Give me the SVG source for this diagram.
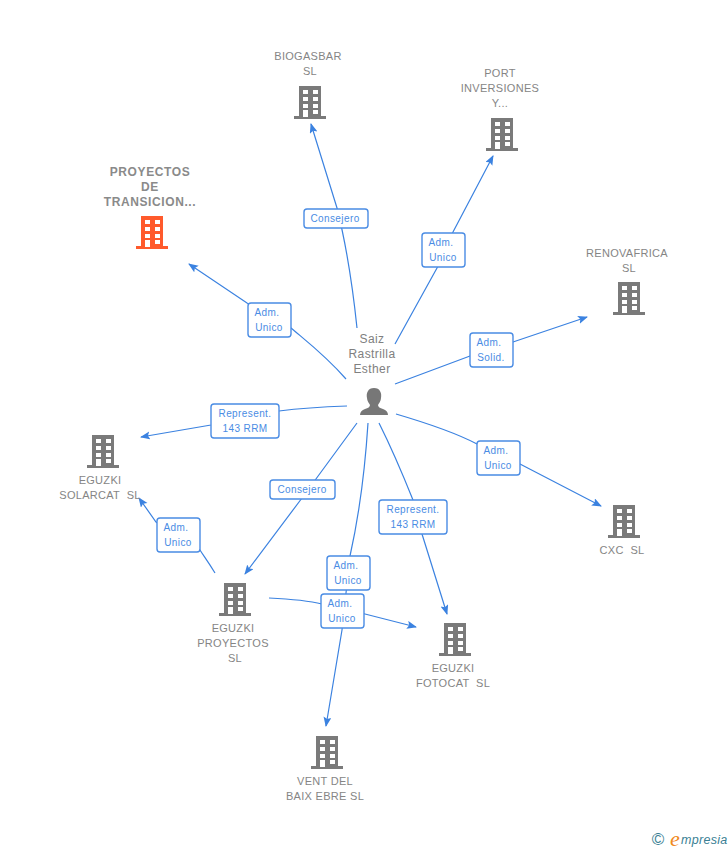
<svg xmlns="http://www.w3.org/2000/svg" width="728" height="850" viewBox="0 0 728 850">
<style>
text{font-family:"Liberation Sans",Arial,sans-serif;white-space:pre}
.n{font-size:11px;fill:#858585;text-anchor:middle;letter-spacing:.3px}
.o{font-size:12px;font-weight:bold;fill:#8a8a8a;text-anchor:middle;letter-spacing:.6px}
.p{font-size:12px;fill:#808080;text-anchor:middle;letter-spacing:.4px}
.c{fill:none;stroke:#3b82e0;stroke-width:1.2}
.b{fill:#fff;stroke:#4a8ce4;stroke-width:1.4}
.l{font-size:10px;fill:#4a8ce4;text-anchor:middle;letter-spacing:.4px}
.h{fill:#3b82e0}
</style>
<defs>
<marker id="a" markerWidth="12" markerHeight="10" refX="9" refY="4" orient="auto" markerUnits="userSpaceOnUse"><path class="h" d="M0 0L10 4L0 8L2 4Z"/></marker>
<g id="bd">
<path d="M-11-16H11V14H16V17H-16V14H-11Z"/>
<path fill="#fff" d="M-7-12h5v4h-5zM3-12h5v4h-5zM-7-5h5v4h-5zM3-5h5v4h-5zM-7 2h5v4h-5zM3 2h5v4h-5zM-7 8h5v7h-5zM3 8h5v4h-5z"/>
</g>
</defs>
<g id="connectors">
<path class="c" marker-end="url(#a)" d="M357 328C352 280 345 240 337 208L311 124"/>
<path class="c" marker-end="url(#a)" d="M395 344L437 268L453 232L493 156"/>
<path class="c" marker-end="url(#a)" d="M395 384L470 356L513 342L587 317"/>
<path class="c" marker-end="url(#a)" d="M396 414C430 424 458 434 477 444L520 464L601 506"/>
<path class="c" marker-end="url(#a)" d="M379 423C395 455 405 480 413 500L422 534L447 614"/>
<path class="c" marker-end="url(#a)" d="M368 423C365 470 358 520 350 556L342 630L326 726"/>
<path class="c" marker-end="url(#a)" d="M357 423L302 498L245 574"/>
<path class="c" marker-end="url(#a)" d="M347 406C320 407 295 409 279 411L211 425L141 437"/>
<path class="c" marker-end="url(#a)" d="M346 379C325 355 305 340 291 328L247 303L189 264"/>
<path class="c" marker-end="url(#a)" d="M215 573C207 560 203 555 200 550L156 522L139 498"/>
<path class="c" marker-end="url(#a)" d="M269 598C290 599 310 601 322 604L365 614L416 627"/>
</g>
<g id="labels">
<g><rect class="b" x="304" y="209" width="64" height="19" rx="3"/><text class="l" x="335" y="222">Consejero</text></g>
<g><rect class="b" x="422" y="233" width="43" height="34" rx="3"/><text class="l" x="441" y="246">Adm.</text><text class="l" x="443" y="261">Unico</text></g>
<g><rect class="b" x="470" y="333" width="43" height="34" rx="3"/><text class="l" x="489" y="346">Adm.</text><text class="l" x="491" y="361">Solid.</text></g>
<g><rect class="b" x="477" y="441" width="43" height="34" rx="3"/><text class="l" x="496" y="454">Adm.</text><text class="l" x="498" y="469">Unico</text></g>
<g><rect class="b" x="379" y="500" width="68" height="34" rx="3"/><text class="l" x="413" y="513">Represent.</text><text class="l" x="413" y="528">143 RRM</text></g>
<g><rect class="b" x="327" y="556" width="43" height="34" rx="3"/><text class="l" x="346" y="569">Adm.</text><text class="l" x="348" y="584">Unico</text></g>
<g><rect class="b" x="321" y="594" width="43" height="34" rx="3"/><text class="l" x="340" y="607">Adm.</text><text class="l" x="342" y="622">Unico</text></g>
<g><rect class="b" x="270" y="480" width="65" height="19" rx="3"/><text class="l" x="302" y="493">Consejero</text></g>
<g><rect class="b" x="211" y="404" width="68" height="34" rx="3"/><text class="l" x="245" y="417">Represent.</text><text class="l" x="245" y="432">143 RRM</text></g>
<g><rect class="b" x="248" y="303" width="43" height="34" rx="3"/><text class="l" x="267" y="316">Adm.</text><text class="l" x="269" y="331">Unico</text></g>
<g><rect class="b" x="157" y="518" width="43" height="34" rx="3"/><text class="l" x="176" y="531">Adm.</text><text class="l" x="178" y="546">Unico</text></g>
</g>
<g id="person">
<text class="p" x="372" y="343">Saiz</text><text class="p" x="372" y="358">Rastrilla</text><text class="p" x="372" y="373">Esther</text>
<path fill="#777" d="M374 388c-6 0-8 5-7 10 0 3 2 5 3 7 0 2-2 3-5 4-3 1-5 3-5 6h28c0-3-2-5-5-6-3-1-5-2-5-4 1-2 3-4 3-7 1-5-1-10-7-10Z"/>
</g>
<g id="biogasbar"><text class="n" x="308" y="60">BIOGASBAR</text><text class="n" x="310" y="75">SL</text><use href="#bd" x="310" y="102" fill="#7a7a7a"/></g>
<g id="port"><text class="n" x="500" y="77">PORT</text><text class="n" x="500" y="92">INVERSIONES</text><text class="n" x="500" y="107">Y...</text><use href="#bd" x="502" y="134" fill="#7a7a7a"/></g>
<g id="proyectos"><text class="o" x="150" y="176">PROYECTOS</text><text class="o" x="150" y="191">DE</text><text class="o" x="150" y="206">TRANSICION...</text><use href="#bd" x="152" y="232" fill="#ff5a2c"/></g>
<g id="renovafrica"><text class="n" x="627" y="257">RENOVAFRICA</text><text class="n" x="629" y="272">SL</text><use href="#bd" x="629" y="298" fill="#7a7a7a"/></g>
<g id="solarcat"><use href="#bd" x="103" y="451" fill="#7a7a7a"/><text class="n" x="100" y="484">EGUZKI</text><text class="n" x="100" y="499">SOLARCAT  SL</text></g>
<g id="cxc"><use href="#bd" x="624" y="521" fill="#7a7a7a"/><text class="n" x="622" y="554">CXC  SL</text></g>
<g id="eguzkip"><use href="#bd" x="235" y="599" fill="#7a7a7a"/><text class="n" x="233" y="632">EGUZKI</text><text class="n" x="233" y="647">PROYECTOS</text><text class="n" x="235" y="662">SL</text></g>
<g id="fotocat"><use href="#bd" x="455" y="639" fill="#7a7a7a"/><text class="n" x="453" y="672">EGUZKI</text><text class="n" x="453" y="687">FOTOCAT  SL</text></g>
<g id="vent"><use href="#bd" x="327" y="752" fill="#7a7a7a"/><text class="n" x="325" y="785">VENT DEL</text><text class="n" x="325" y="800">BAIX EBRE SL</text></g>
<g id="brand">
<text x="658" y="845" font-size="17" fill="#3a7f94" text-anchor="middle">©</text>
<text x="670" y="846" font-size="22" font-style="italic" fill="#f08a1d" style="font-family:'Liberation Serif',serif">e</text>
<text x="681" y="844" font-size="12.5" font-style="italic" fill="#3a7f94" letter-spacing=".3">mpresia</text>
</g>
</svg>
